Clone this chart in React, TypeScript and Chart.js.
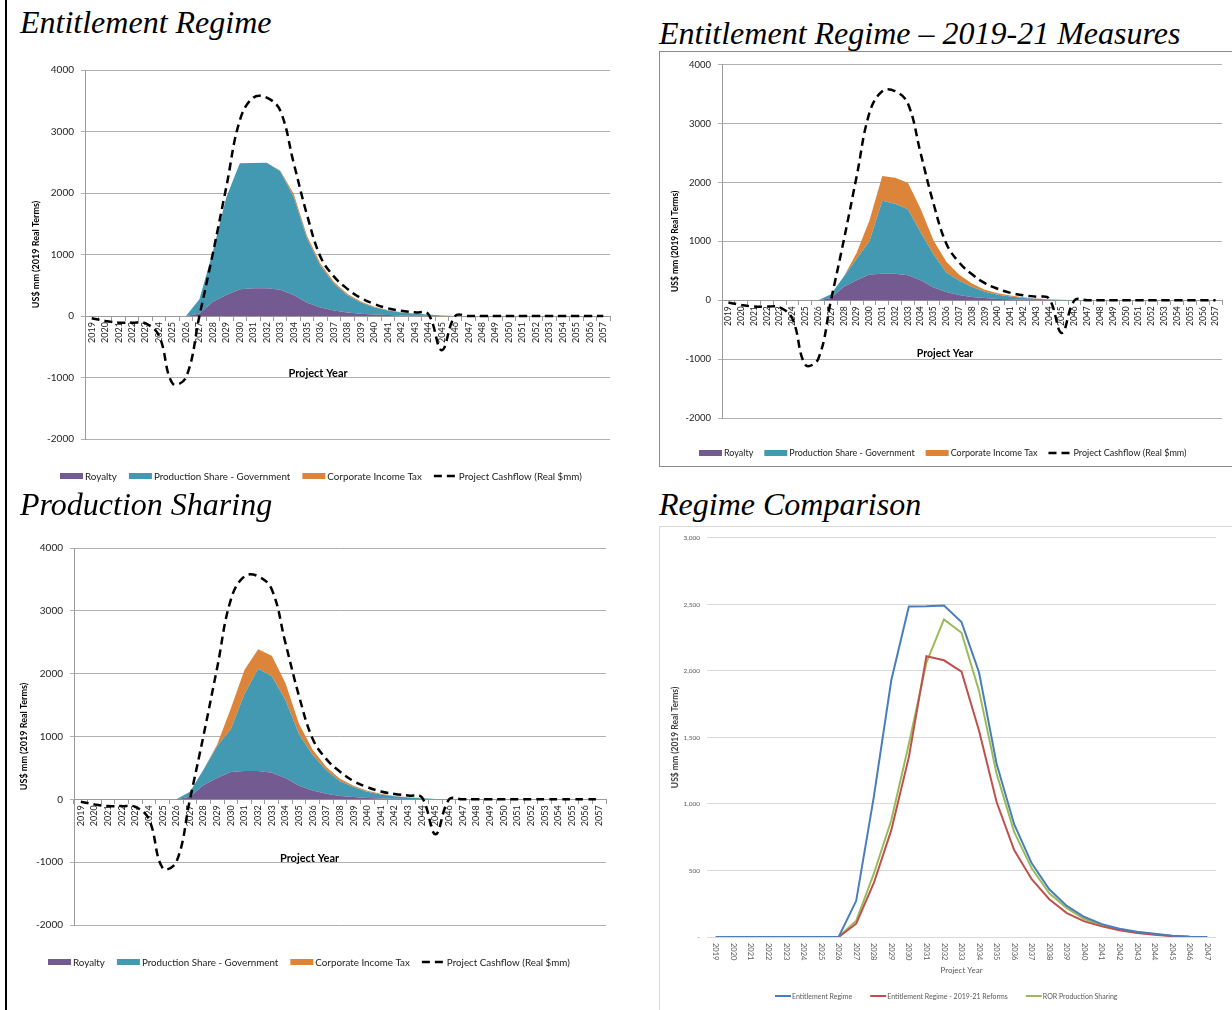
import React, { useEffect, useRef } from 'react';
import { Chart, registerables } from 'chart.js';

Chart.register(...registerables);

// ---------- categories ----------
const YEARS = [
  '2019', '2020', '2021', '2022', '2023', '2024', '2025', '2026', '2027', '2028',
  '2029', '2030', '2031', '2032', '2033', '2034', '2035', '2036', '2037', '2038',
  '2039', '2040', '2041', '2042', '2043', '2044', '2045', '2046', '2047', '2048',
  '2049', '2050', '2051', '2052', '2053', '2054', '2055', '2056', '2057',
];
const COMPARISON_YEARS = [
  '2019', '2020', '2021', '2022', '2023', '2024', '2025', '2026', '2027', '2028',
  '2029', '2030', '2031', '2032', '2033', '2034', '2035', '2036', '2037', '2038',
  '2039', '2040', '2041', '2042', '2043', '2044', '2045', '2046', '2047',
];

// ---------- shared series ----------
const ROYALTY = [0, 0, 0, 0, 0, 0, 0, 0, 40, 230, 340, 435, 450, 450, 425, 340, 215, 140, 88, 55, 36, 23, 15, 9, 5, 3, 1, 0, 0, 0, 0, 0, 0, 0, 0, 0, 0, 0, 0];
const CASHFLOW = [-38, -80, -108, -108, -120, -320, -1095, -1000, 0, 1020, 2100, 3180, 3550, 3550, 3340, 2490, 1640, 960, 640, 440, 290, 195, 125, 85, 60, 32, -555, 0, 0, 0, 0, 0, 0, 0, 0, 0, 0, 0, 0];

// ---------- Entitlement Regime ----------
const PS_ENTITLEMENT = [0, 0, 0, 0, 0, 0, 0, 0, 232, 820, 1590, 2049, 2036, 2041, 1927, 1593, 1042, 673, 438, 282, 182, 115, 74, 48, 32, 20, 9, 2, 0, 0, 0, 0, 0, 0, 0, 0, 0, 0, 0];
const CIT_ENTITLEMENT = [0, 0, 0, 0, 0, 0, 0, 0, 0, 0, 0, 0, 0, 0, 15, 55, 45, 35, 28, 22, 16, 12, 8, 5, 3, 2, 0, 0, 0, 0, 0, 0, 0, 0, 0, 0, 0, 0, 0];

// ---------- Entitlement Regime - 2019-21 Measures ----------
const PS_REFORM = [0, 0, 0, 0, 0, 0, 0, 0, 60, 174, 363, 567, 1240, 1190, 1120, 811, 560, 333, 246, 169, 109, 69, 49, 31, 19, 11, 5, 2, 0, 0, 0, 0, 0, 0, 0, 0, 0, 0, 0];
const CIT_REFORM = [0, 0, 0, 0, 0, 0, 0, 0, 0, 0, 100, 350, 420, 440, 450, 400, 240, 180, 100, 60, 35, 25, 16, 10, 6, 3, 1, 0, 0, 0, 0, 0, 0, 0, 0, 0, 0, 0, 0];

// ---------- Production Sharing ----------
const PS_SHARING = [0, 0, 0, 0, 0, 0, 0, 0, 82, 244, 508, 686, 1232, 1627, 1532, 1240, 815, 565, 373, 234, 161, 97, 62, 40, 26, 15, 6, 0, 0, 0, 0, 0, 0, 0, 0, 0, 0, 0, 0];
const CIT_SHARING = [0, 0, 0, 0, 0, 0, 0, 0, 0, 0, 30, 330, 380, 310, 330, 270, 170, 85, 55, 40, 20, 15, 10, 6, 4, 2, 0, 0, 0, 0, 0, 0, 0, 0, 0, 0, 0, 0, 0];

// ---------- Regime Comparison ----------
const CMP_ENTITLEMENT = [0, 0, 0, 0, 0, 0, 0, 0, 272, 1050, 1930, 2484, 2486, 2491, 2367, 1988, 1302, 848, 554, 359, 234, 150, 97, 62, 40, 25, 10, 2, 0];
const CMP_REFORMS = [0, 0, 0, 0, 0, 0, 0, 0, 100, 404, 803, 1352, 2110, 2080, 1995, 1551, 1015, 653, 434, 284, 180, 117, 80, 50, 30, 17, 7, 2, 0];
const CMP_SHARING = [0, 0, 0, 0, 0, 0, 0, 0, 122, 474, 878, 1451, 2062, 2387, 2287, 1850, 1227, 790, 516, 329, 217, 135, 87, 55, 35, 20, 7, 0, 0];

const Y_TICKS_STACKED = [-2000, -1000, 0, 1000, 2000, 3000, 4000];
const Y_TICKS_COMPARISON = [0, 500, 1000, 1500, 2000, 2500, 3000];

// ---------- styles ----------
const PURPLE = '#735b91';
const TEAL = '#4399b1';
const ORANGE = '#dd843b';
const BLUE = '#4a7ebb';
const RED = '#c0504d';
const GREEN = '#9bbb59';
const FONT = 'Lato, "Open Sans", sans-serif';

type LegendItem = { kind: 'box' | 'line'; color: string; text: string; dash?: number[]; lineWidth?: number };

function legendPlugin(cfg: {
  x: number; y: number; size: number; color: string; markW: number; boxH: number;
  textGap: number; itemGap: number; items: LegendItem[];
}) {
  return {
    id: 'customLegend',
    afterDraw(chart: any) {
      const ctx = chart.ctx as CanvasRenderingContext2D;
      ctx.save();
      ctx.font = `${cfg.size}px ${FONT}`;
      ctx.textBaseline = 'middle';
      ctx.textAlign = 'left';
      let x = cfg.x;
      for (const it of cfg.items) {
        if (it.kind === 'box') {
          ctx.fillStyle = it.color;
          ctx.fillRect(x, cfg.y - cfg.boxH / 2, cfg.markW, cfg.boxH);
        } else {
          ctx.strokeStyle = it.color;
          ctx.lineWidth = it.lineWidth ?? 2;
          ctx.setLineDash(it.dash ?? []);
          ctx.beginPath();
          ctx.moveTo(x, cfg.y);
          ctx.lineTo(x + cfg.markW, cfg.y);
          ctx.stroke();
          ctx.setLineDash([]);
        }
        x += cfg.markW + cfg.textGap;
        ctx.fillStyle = cfg.color;
        ctx.fillText(it.text, x, cfg.y + 0.5);
        x += ctx.measureText(it.text).width + cfg.itemGap;
      }
      ctx.restore();
    },
  };
}

function axisTextPlugin(text: string, x: number, y: number, size: number) {
  return {
    id: 'axisTitleText',
    afterDraw(chart: any) {
      const ctx = chart.ctx as CanvasRenderingContext2D;
      ctx.save();
      ctx.font = `bold ${size}px ${FONT}`;
      ctx.fillStyle = '#000';
      ctx.textAlign = 'center';
      ctx.textBaseline = 'middle';
      ctx.fillText(text, x, y);
      ctx.restore();
    },
  };
}

function rotatedLabelsPlugin(gap: number, size: number, color: string) {
  return {
    id: 'rotatedXLabels',
    afterDraw(chart: any) {
      const ctx = chart.ctx as CanvasRenderingContext2D;
      const xs = chart.scales.x;
      const labels = chart.data.labels as string[];
      ctx.save();
      ctx.font = `${size}px ${FONT}`;
      ctx.fillStyle = color;
      ctx.textAlign = 'left';
      ctx.textBaseline = 'middle';
      labels.forEach((lab, i) => {
        const px = xs.getPixelForValue(i);
        ctx.save();
        ctx.translate(px, chart.chartArea.bottom + gap);
        ctx.rotate(Math.PI / 2);
        ctx.fillText(String(lab), 0, 0);
        ctx.restore();
      });
      ctx.restore();
    },
  };
}

function stackedConfig(o: {
  ps: number[]; cit: number[]; yWidth: number;
  padding: { top: number; right: number; bottom: number; left: number };
  yTick: number; xTick: number; yTitle: number; yTitlePad: number;
  legend: { x: number; y: number; size: number; itemGap: number };
  axisTitle: { x: number; y: number; size: number };
}) {
  const area = (label: string, data: number[], color: string, fill: any) => ({
    type: 'line', label, data, fill, stack: 'gov',
    backgroundColor: color, borderColor: 'rgba(0,0,0,0)', borderWidth: 0,
    pointRadius: 0, tension: 0,
  });
  return {
    type: 'line',
    data: {
      labels: YEARS,
      datasets: [
        {
          type: 'line', label: 'Project Cashflow (Real $mm)', data: CASHFLOW, stack: 'cf',
          borderColor: '#000', borderWidth: 2.5, borderDash: [8, 5], fill: false,
          pointRadius: 0, tension: 0.4,
        },
        area('Royalty', ROYALTY, PURPLE, 'origin'),
        area('Production Share - Government', o.ps, TEAL, '-1'),
        area('Corporate Income Tax', o.cit, ORANGE, '-1'),
      ],
    },
    options: {
      responsive: false,
      maintainAspectRatio: false,
      animation: false,
      devicePixelRatio: 1,
      events: [],
      layout: { padding: o.padding },
      plugins: { legend: { display: false }, tooltip: { enabled: false }, title: { display: false } },
      scales: {
        x: {
          type: 'category',
          position: { y: 0 },
          offset: true,
          grid: { display: true, drawOnChartArea: false, drawTicks: true, tickLength: 4, color: '#9a9a9a', offset: true },
          border: { display: true, color: '#9a9a9a' },
          ticks: {
            autoSkip: false, minRotation: 90, maxRotation: 90, padding: 2,
            font: { family: FONT, size: o.xTick }, color: '#222',
          },
        },
        y: {
          stacked: true,
          min: -2000, max: 4000,
          afterBuildTicks: (s: any) => { s.ticks = Y_TICKS_STACKED.map((v) => ({ value: v })); },
          afterFit: (s: any) => { s.width = o.yWidth; },
          ticks: {
            padding: 7, font: { family: FONT, size: o.yTick }, color: '#222',
            callback: (v: any) => String(v),
          },
          grid: { color: '#b0b0b0', lineWidth: 1, drawTicks: true, tickLength: 4 },
          border: { display: true, color: '#9a9a9a' },
          title: {
            display: true, text: 'US$ mm (2019 Real Terms)', color: '#000',
            font: { family: FONT, size: o.yTitle, weight: 'bold' },
            padding: { top: o.yTitlePad, bottom: 0 },
          },
        },
      },
    },
    plugins: [
      legendPlugin({
        x: o.legend.x, y: o.legend.y, size: o.legend.size, color: '#222', markW: 23, boxH: 6,
        textGap: 2, itemGap: o.legend.itemGap,
        items: [
          { kind: 'box', color: PURPLE, text: 'Royalty' },
          { kind: 'box', color: TEAL, text: 'Production Share - Government' },
          { kind: 'box', color: ORANGE, text: 'Corporate Income Tax' },
          { kind: 'line', color: '#000', text: 'Project Cashflow (Real $mm)', dash: [8, 5], lineWidth: 2.5 },
        ],
      }),
      axisTextPlugin('Project Year', o.axisTitle.x, o.axisTitle.y, o.axisTitle.size),
    ],
  };
}

function comparisonConfig() {
  const line = (label: string, data: number[], color: string) => ({
    type: 'line', label, data, borderColor: color, backgroundColor: color,
    borderWidth: 2, pointRadius: 0, tension: 0, fill: false,
  });
  return {
    type: 'line',
    data: {
      labels: COMPARISON_YEARS,
      datasets: [
        line('Entitlement Regime', CMP_ENTITLEMENT, BLUE),
        line('Entitlement Regime - 2019-21 Reforms', CMP_REFORMS, RED),
        line('ROR Production Sharing', CMP_SHARING, GREEN),
      ],
    },
    options: {
      responsive: false,
      maintainAspectRatio: false,
      animation: false,
      devicePixelRatio: 1,
      events: [],
      layout: { padding: { top: 9, right: 16, bottom: 0, left: 0 } },
      plugins: { legend: { display: false }, tooltip: { enabled: false } },
      scales: {
        x: {
          type: 'category', offset: true,
          grid: { display: false }, border: { display: false },
          ticks: { display: false },
          afterFit: (s: any) => { s.height = 73; },
          title: {
            display: true, text: 'Project Year', color: '#595959',
            font: { family: FONT, size: 8 }, padding: { top: 0, bottom: 35 },
          },
        },
        y: {
          min: 0, max: 3000,
          afterBuildTicks: (s: any) => { s.ticks = Y_TICKS_COMPARISON.map((v) => ({ value: v })); },
          afterFit: (s: any) => { s.width = 47; },
          ticks: {
            padding: 7, font: { family: FONT, size: 6.5 }, color: '#595959',
            callback: (v: any) => (v === 0 ? '-' : Number(v).toLocaleString('en-US')),
          },
          grid: { color: '#d9d9d9', lineWidth: 1, drawTicks: false },
          border: { display: false },
          title: {
            display: true, text: 'US$ mm (2019 Real Terms)', color: '#404040',
            font: { family: FONT, size: 8.5, weight: 'bold' }, padding: { top: 10, bottom: 0 },
          },
        },
      },
    },
    plugins: [
      rotatedLabelsPlugin(6, 7.5, '#595959'),
      legendPlugin({
        x: 115, y: 469, size: 7, color: '#595959', markW: 16, boxH: 2, textGap: 1, itemGap: 18,
        items: [
          { kind: 'line', color: BLUE, text: 'Entitlement Regime', lineWidth: 2 },
          { kind: 'line', color: RED, text: 'Entitlement Regime - 2019-21 Reforms', lineWidth: 2 },
          { kind: 'line', color: GREEN, text: 'ROR Production Sharing', lineWidth: 2 },
        ],
      }),
    ],
  };
}

function ChartCanvas({ left, top, width, height, config }: { left: number; top: number; width: number; height: number; config: any }) {
  const ref = useRef<HTMLCanvasElement>(null);
  useEffect(() => {
    const chart = new Chart(ref.current as HTMLCanvasElement, config);
    return () => chart.destroy();
  }, []);
  return (
    <canvas
      ref={ref}
      width={width}
      height={height}
      style={{ position: 'absolute', left, top, width, height }}
    />
  );
}

const titleStyle: React.CSSProperties = {
  position: 'absolute',
  fontFamily: '"Liberation Serif", "Times New Roman", serif',
  fontStyle: 'italic',
  fontSize: 32,
  lineHeight: '32px',
  whiteSpace: 'nowrap',
  color: '#000',
};

export default function App() {
  const p1 = stackedConfig({
    ps: PS_ENTITLEMENT, cit: CIT_ENTITLEMENT, yWidth: 65,
    padding: { top: 30, right: 10, bottom: 51, left: 0 },
    yTick: 10, xTick: 9, yTitle: 9, yTitlePad: 11,
    legend: { x: 40, y: 436, size: 9.8, itemGap: 12 },
    axisTitle: { x: 298, y: 333, size: 11 },
  });
  const p2 = stackedConfig({
    ps: PS_REFORM, cit: CIT_REFORM, yWidth: 62,
    padding: { top: 11, right: 10, bottom: 48, left: 0 },
    yTick: 9.5, xTick: 8.5, yTitle: 8.5, yTitlePad: 10,
    legend: { x: 39, y: 401, size: 9.0, itemGap: 11 },
    axisTitle: { x: 285, y: 302, size: 10.5 },
  });
  const p3 = stackedConfig({
    ps: PS_SHARING, cit: CIT_SHARING, yWidth: 64,
    padding: { top: 28, right: 14, bottom: 65, left: 0 },
    yTick: 10, xTick: 9, yTitle: 9, yTitlePad: 9,
    legend: { x: 38, y: 442, size: 9.8, itemGap: 12 },
    axisTitle: { x: 299.5, y: 338, size: 11 },
  });
  const p4 = comparisonConfig();

  return (
    <div style={{ position: 'absolute', left: 0, top: 0, width: 1232, height: 1010, overflow: 'hidden', background: '#fff' }}>
      <div style={{ position: 'absolute', left: 5, top: 0, width: 2, height: 1010, background: '#000' }} />

      <div style={{ ...titleStyle, left: 20, top: 6 }}>Entitlement Regime</div>
      <ChartCanvas left={20} top={40} width={600} height={450} config={p1} />

      <div style={{ position: 'absolute', left: 659, top: 51, width: 600, height: 416, border: '1px solid #8a8a8a', boxSizing: 'border-box' }} />
      <div style={{ ...titleStyle, left: 659, top: 17 }}>Entitlement Regime – 2019-21 Measures</div>
      <ChartCanvas left={660} top={52} width={572} height={414} config={p2} />

      <div style={{ ...titleStyle, left: 20, top: 488 }}>Production Sharing</div>
      <ChartCanvas left={10} top={520} width={610} height={470} config={p3} />

      <div style={{ ...titleStyle, left: 659, top: 488 }}>Regime Comparison</div>
      <div style={{ position: 'absolute', left: 659, top: 526, width: 600, height: 520, border: '1px solid #d9d9d9', boxSizing: 'border-box' }} />
      <ChartCanvas left={660} top={527} width={572} height={483} config={p4} />
    </div>
  );
}
